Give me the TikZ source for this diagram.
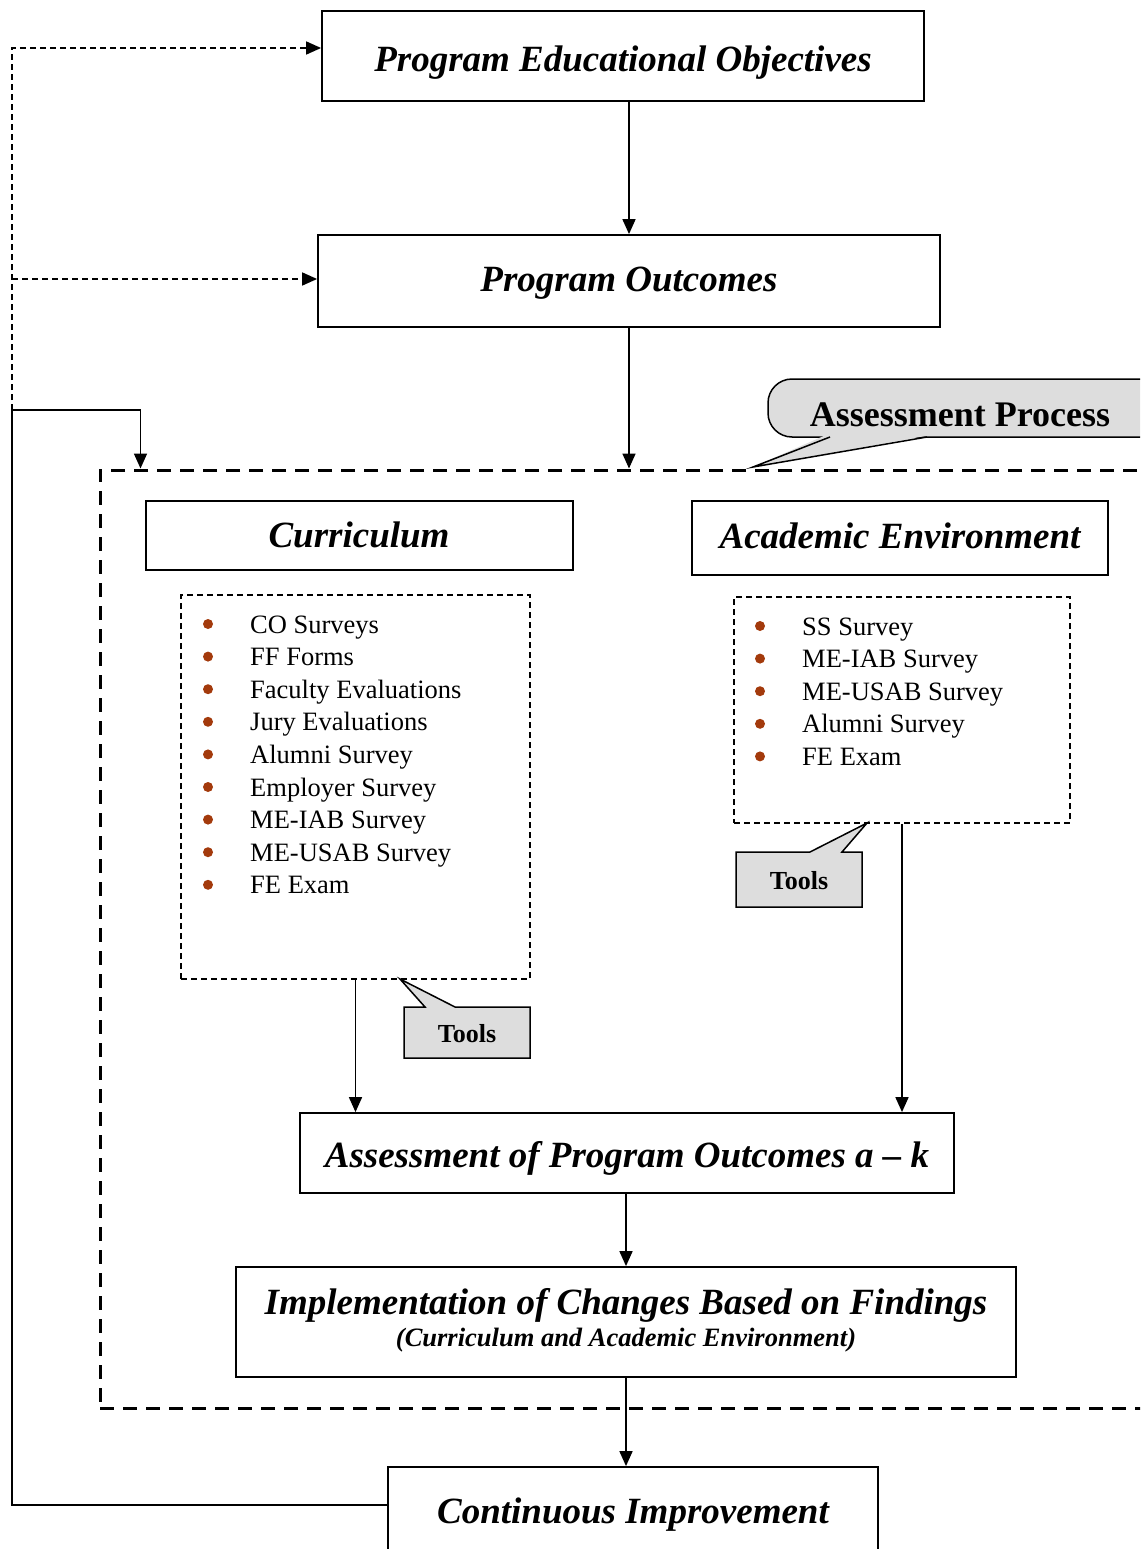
\documentclass[tikz,border=0pt]{standalone}
\usepackage{fontspec}
\setmainfont{Liberation Serif}
\usetikzlibrary{arrows.meta,calc}
\definecolor{bul}{HTML}{A33A0C}
\definecolor{callgray}{HTML}{DDDDDD}
\begin{document}
\begin{tikzpicture}[x=1pt,y=-1pt,
  box/.style={draw,line width=1.8pt,inner sep=0pt},
  listbox/.style={draw,line width=1.5pt,dash pattern=on 6pt off 4pt,inner sep=0pt},
  procbox/.style={draw,line width=3pt,dash pattern=on 14pt off 9pt,inner sep=0pt},
  title/.style={font=\fontsize{37}{40}\selectfont\bfseries\itshape,inner sep=0pt,anchor=base},
  subtitle/.style={font=\fontsize{26.5}{30}\selectfont\bfseries\itshape,inner sep=0pt,anchor=base},
  item/.style={font=\fontsize{26.5}{30}\selectfont,inner sep=0pt,anchor=base west},
  calltext/.style={font=\fontsize{26}{30}\selectfont\bfseries,inner sep=0pt,anchor=base},
  call/.style={fill=callgray,draw,line width=1.5pt,line join=miter},
  arr/.style={line width=1.7pt,-{Triangle[length=15pt,width=13pt]}},
  dl/.style={line width=1.6pt,dash pattern=on 6pt off 4pt},
  dlarr/.style={dl,-{Triangle[length=15pt,width=13pt]}}
]
\useasboundingbox (0,0) rectangle (1140,1549);
\clip (0,0) rectangle (1140,1549);

% process region
\node[procbox,minimum width=1050pt,minimum height=938pt] (proc) at (625,939) {};

% main boxes
\node[box,minimum width=602pt,minimum height=90pt] (peo) at (623,56) {};
\node[title] (peot) at (623,72) {Program Educational Objectives};
\node[box,minimum width=622pt,minimum height=92pt] (po) at (629,281) {};
\node[title] (pot) at (629,291) {Program Outcomes};
\node[box,minimum width=427pt,minimum height=69pt] (cur) at (359.5,535.5) {};
\node[title] (curt) at (359,547) {Curriculum};
\node[box,minimum width=416pt,minimum height=74pt] (acad) at (900,538) {};
\node[title] (acadt) at (900,548) {Academic Environment};
\node[listbox,minimum width=349pt,minimum height=384pt] (clist) at (355.5,787) {};
\node[listbox,minimum width=336pt,minimum height=226pt] (alist) at (902,710) {};
\node[box,minimum width=654pt,minimum height=80pt] (apo) at (627,1153) {};
\node[title] (apot) at (627,1167) {Assessment of Program Outcomes a -- k};
\node[box,minimum width=780pt,minimum height=110pt] (impl) at (626,1322) {};
\node[title] (implt) at (626,1314) {Implementation of Changes Based on Findings};
\node[subtitle] (impls) at (626,1346) {(Curriculum and Academic Environment)};
\node[box,minimum width=490pt,minimum height=173pt] (ci) at (633,1553.5) {};
\node[title] (cit) at (633,1523) {Continuous Improvement};

% lists
\foreach \t [count=\i from 0] in {CO Surveys,FF Forms,Faculty Evaluations,Jury Evaluations,Alumni Survey,Employer Survey,ME-IAB Survey,ME-USAB Survey,FE Exam}{
  \fill[bul] (208,{624+32.6*\i}) circle (5pt);
  \node[item] (cl\i) at (250,{633+32.6*\i}) {\t};
}
\foreach \t [count=\i from 0] in {SS Survey,ME-IAB Survey,ME-USAB Survey,Alumni Survey,FE Exam}{
  \fill[bul] (760,{626+32.6*\i}) circle (5pt);
  \node[item] (al\i) at (802,{635+32.6*\i}) {\t};
}

% callouts
\filldraw[call,rounded corners=24pt] (768,379) rectangle (1175,437);
\fill[callgray] (826,435) -- (753,467) -- (931,435) -- cycle;
\draw[line width=1.5pt,line join=miter] (830,437) -- (753,467) -- (927,437);
\node[font=\fontsize{36}{40}\selectfont\bfseries,inner sep=0pt,anchor=base] (apt) at (960,426) {Assessment Process};

\draw[call] (736,852) -- (810,852) -- (867,823) -- (842,852) -- (862,852) -- (862,907) -- (736,907) -- cycle;
\node[calltext] (tools1) at (799,889) {Tools};
\draw[call] (404,1007) -- (425,1007) -- (400,979) -- (455,1007) -- (530,1007) -- (530,1058) -- (404,1058) -- cycle;
\node[calltext] (tools2) at (467,1042) {Tools};

% connectors
\draw[arr] (po.north |- peo.south) -- (po.north);
\draw[arr] (po.south) -- (po.south |- proc.north);
\draw[arr] (clist.south) -- (clist.south |- apo.north);
\draw[arr] (alist.south) -- (alist.south |- apo.north);
\draw[arr] (impl.north |- apo.south) -- (impl.north);
\draw[arr] (impl.south) -- (impl.south |- ci.north);

% feedback
\coordinate (cil) at ($(ci.north west)+(0,39)$);
\coordinate (fb) at (12,410);
\coordinate (dtop) at (12,48);
\coordinate (dmid) at (12,279);
\draw[arr] (cil) -| (fb) -| ([xshift=42pt]proc.north west);
\draw[dlarr] (fb) -- (dtop) -- (dtop -| peo.west);
\draw[dlarr] (dmid) -- (dmid -| po.west);
\end{tikzpicture}
\end{document}
